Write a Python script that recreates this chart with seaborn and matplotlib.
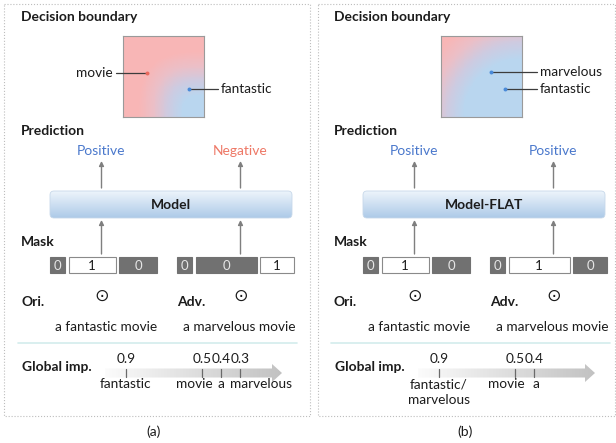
import numpy as np
import matplotlib
matplotlib.use('Agg')
import matplotlib.pyplot as plt
import seaborn as sns
from matplotlib.colors import LinearSegmentedColormap
from matplotlib.patches import Rectangle, FancyBboxPatch, Polygon

sns.set_theme(style='white')
plt.rcParams['font.family'] = ['Lato', 'DejaVu Sans']

# ---- data ----
panel_tags = ['(a)', '(b)']
model_names = ['Model', 'Model-FLAT']
pred_ori = ['Positive', 'Positive']
pred_adv = ['Negative', 'Positive']
sent_ori = 'a fantastic movie'
sent_adv = 'a marvelous movie'
mask_ori = [[0, 1, 0], [0, 1, 0]]
mask_adv = [[0, 0, 1], [0, 1, 0]]
# word positions inside the decision-boundary square (0-1, y down)
emb_words = [['movie', 'fantastic'], ['marvelous', 'fantastic']]
emb_x = [[0.30, 0.82], [0.62, 0.79]]
emb_y = [[0.46, 0.65], [0.44, 0.65]]
emb_cls = [['neg', 'pos'], ['pos', 'pos']]
imp_vals = [[0.9, 0.5, 0.4, 0.3], [0.9, 0.5, 0.4]]
imp_words = [['fantastic', 'movie', 'a', 'marvelous'],
             ['fantastic/\nmarvelous', 'movie', 'a']]

# ---- styles ----
TXT = '#1c1c1c'
POS = '#4a78cc'
NEG = '#ee7866'
DOT = {'pos': '#4a8ad8', 'neg': '#ea6a5e'}
boundary_cmap = LinearSegmentedColormap.from_list(
    'bd', ['#b9d6ef', '#cdcbe1', '#ebbfc7', '#f8b6b6'])
model_cmap = LinearSegmentedColormap.from_list('md', ['#edf4fb', '#adcae8'])
imp_cmap = LinearSegmentedColormap.from_list('imp', ['#fbfbfb', '#c2c2c2'])

W, H = 616, 443
fig = plt.figure(figsize=(W / 100, H / 100), dpi=100)
ax = fig.add_axes([0, 0, 1, 1])
ax.set_xlim(0, W)
ax.set_ylim(H, 0)
ax.axis('off')
ax.set_zorder(2)

offsets = [0, 313]
sq_left = [123, 441]
sq_top, sq_size = 36, 81
label_side = [['right', 'left'], ['left', 'left']]
label_x = [[113, 221], [540, 540]]
gamma = [(0.26, 0.55, 3.0), (0.72, 0.60, 2.0)]
border_x = [(4, 310), (318, 615)]
tag_x = [154, 465]
# horizontal shift of each word under its tick
word_dx = [[0, -8, 0, 21], [0, -9, 2]]
imp_scale = [(126, 190), (126, 190)]


def boundary_field(r0, w, p, n=90):
    u, v = np.meshgrid(np.linspace(0, 1, n), np.linspace(0, 1, n))
    r = ((1 - u) ** p + (1 - v) ** p) ** (1 / p)
    return np.clip((r - r0) / w, 0, 1)


def head(x, y, text, dx):
    ax.text(x + dx, y, text, fontsize=10, fontweight='bold', color=TXT,
            va='center', ha='left')


def arrow_up(x, y0, y1):
    ax.annotate('', xy=(x, y1), xytext=(x, y0),
                arrowprops=dict(arrowstyle='-|>', color='#7f7f7f', lw=1.0,
                                mutation_scale=7, shrinkA=0, shrinkB=0))


def mask_row(x0, vals, widths, dx):
    x = x0 + dx
    for val, w in zip(vals, widths):
        dark = val == 0
        ax.add_patch(Rectangle((x, 257), w, 16,
                               facecolor='#717171' if dark else 'white',
                               edgecolor='#717171' if dark else '#8a8a8a',
                               lw=0.8))
        ax.text(x + w / 2, 265.5, str(val), fontsize=9.5, ha='center',
                va='center', color='#e6e6e6' if dark else TXT)
        x += w + 3.5


for i in range(2):
    dx = offsets[i]
    bx0, bx1 = border_x[i]
    ax.add_patch(Rectangle((bx0, 4), bx1 - bx0, 412, fill=False,
                           edgecolor='#bdbdbd', lw=0.8, ls=':'))
    ax.text(tag_x[i], 432, panel_tags[i], fontsize=10, ha='center',
            va='center', color=TXT)

    # decision boundary square drawn as a seaborn heatmap
    head(21, 17, 'Decision boundary', dx)
    sq = fig.add_axes([sq_left[i] / W, 1 - (sq_top + sq_size) / H,
                       sq_size / W, sq_size / H])
    sq.set_zorder(1)
    sns.heatmap(boundary_field(*gamma[i]), ax=sq, cmap=boundary_cmap,
                cbar=False, xticklabels=False, yticklabels=False,
                vmin=0, vmax=1, rasterized=True)
    for s in sq.spines.values():
        s.set_visible(True)
        s.set_color('#9a9a9a')
        s.set_linewidth(0.8)

    for j, word in enumerate(emb_words[i]):
        px = sq_left[i] + emb_x[i][j] * sq_size
        py = sq_top + emb_y[i][j] * sq_size
        lx = label_x[i][j]
        end = lx + 3 if label_side[i][j] == 'right' else lx - 3
        ax.plot([px, end], [py, py], color='#3c3c3c', lw=0.9, zorder=3)
        ax.scatter([px], [py], s=8, color=DOT[emb_cls[i][j]], zorder=4,
                   linewidths=0)
        ax.text(lx, py, word, fontsize=9.8, color=TXT, va='center',
                ha='right' if label_side[i][j] == 'right' else 'left')

    # prediction
    head(21, 131, 'Prediction', dx)
    ax.text(101 + dx, 151, pred_ori[i], fontsize=10, ha='center',
            va='center', color=POS)
    ax.text(240 + dx, 151, pred_adv[i], fontsize=10, ha='center',
            va='center', color=POS if pred_adv[i] == 'Positive' else NEG)
    arrow_up(101.5 + dx, 188, 161)
    arrow_up(240.5 + dx, 188, 161)

    # model box with vertical gradient
    mb = FancyBboxPatch((50 + dx, 191), 242, 27,
                        boxstyle='round,pad=0,rounding_size=4',
                        facecolor='none', edgecolor='#c7d8ea', lw=0.6,
                        zorder=3)
    ax.add_patch(mb)
    grad = np.linspace(0, 1, 60).reshape(-1, 1)
    im = ax.imshow(grad, cmap=model_cmap, aspect='auto',
                   extent=(50 + dx, 292 + dx, 218, 191), zorder=2)
    im.set_clip_path(mb)
    ax.text(171 + dx, 205, model_names[i], fontsize=10, fontweight='bold',
            ha='center', va='center', color=TXT, zorder=4)

    # mask
    head(21, 242, 'Mask', dx)
    arrow_up(101.5 + dx, 254, 220)
    arrow_up(240.5 + dx, 254, 220)
    mask_row(50, mask_ori[i], [15, 47, 38], dx)
    mask_row(177, mask_adv[i], [15, 61, 34], dx)

    # inputs
    for ox in (101.5, 240.5):
        ax.text(ox + dx, 296, '\u2299', fontsize=12.5, ha='center',
                va='center', color=TXT, family='DejaVu Sans')
    head(21, 302, 'Ori.', dx)
    head(177, 302, 'Adv.', dx)
    ax.text(106 + dx, 327, sent_ori, fontsize=9.8, ha='center',
            va='center', color=TXT)
    ax.text(239 + dx, 327, sent_adv, fontsize=9.8, ha='center',
            va='center', color=TXT)
    ax.plot([18 + dx, 297 + dx], [343, 343], color='#d3ecec', lw=1.2)

    # global importance axis
    head(22, 367, 'Global imp.', dx)
    ax0, ax1, ay = 105 + dx, 282 + dx, 373
    poly = Polygon([(ax0, ay - 4.5), (ax1 - 10, ay - 4.5), (ax1 - 10, ay - 9),
                    (ax1, ay), (ax1 - 10, ay + 9), (ax1 - 10, ay + 4.5),
                    (ax0, ay + 4.5)], closed=True, facecolor='none',
                   edgecolor='none')
    ax.add_patch(poly)
    g = np.linspace(0, 1, 100).reshape(1, -1)
    gi = ax.imshow(g, cmap=imp_cmap, aspect='auto',
                   extent=(ax0, ax1, ay + 9, ay - 9), zorder=2)
    gi.set_clip_path(poly)
    base, k = imp_scale[i]
    for j, v in enumerate(imp_vals[i]):
        tx = base + dx + (0.9 - v) * k
        ax.plot([tx, tx], [368.5, 377], color='#6a6a6a', lw=0.9, zorder=3)
        ax.text(tx, 359, f'{v:.1f}', fontsize=9.8, ha='center',
                va='center', color=TXT)
        ax.text(tx + word_dx[i][j], 378.5, imp_words[i][j], fontsize=9.8,
                ha='center', va='top', color=TXT, linespacing=1.3)

fig.savefig('out.png', dpi=100)
